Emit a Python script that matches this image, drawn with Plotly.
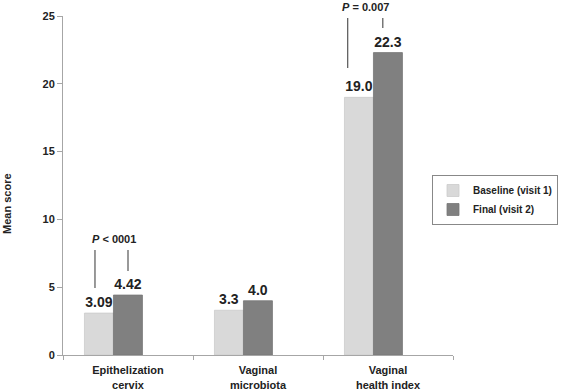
import plotly.graph_objects as go

categories = ["Epithelization<br>cervix", "Vaginal<br>microbiota", "Vaginal<br>health index"]
baseline = [3.09, 3.3, 19.0]
final = [4.42, 4.0, 22.3]
baseline_labels = ["3.09", "3.3", "19.0"]
final_labels = ["4.42", "4.0", "22.3"]
y_ticks = [0, 5, 10, 15, 20, 25]

FONT = "Liberation Sans, Arial, sans-serif"
AX = "#a6a6a6"
BW = 0.223

W, H = 567, 391
L, R, T, B = 63, 114, 16, 36
pw, ph = W - L - R, H - T - B


def px_x(px):
    return (px - L) / pw


def px_y(py):
    return (H - B - py) / ph


fig = go.Figure()
fig.add_bar(x=categories, y=baseline, name="Baseline (visit 1)",
            marker=dict(color="#d9d9d9", line=dict(color="#cccccc", width=0.8)),
            width=BW, offset=-0.335,
            text=baseline_labels, textposition="outside", cliponaxis=False,
            textfont=dict(size=14, color="#222", family=FONT, weight="bold"))
fig.add_bar(x=categories, y=final, name="Final (visit 2)",
            marker=dict(color="#808080", line=dict(color="#777777", width=0.8)),
            width=BW, offset=-0.112,
            text=final_labels, textposition="outside", cliponaxis=False,
            textfont=dict(size=14, color="#222", family=FONT, weight="bold"))

line_style = dict(color="#555555", width=1.2)
pfont = dict(size=11, color="#222", family=FONT, weight="bold")
# P-value brackets
fig.add_shape(type="line", xref="x", yref="y", x0=-0.254, x1=-0.254, y0=4.94, y1=7.74, line=line_style)
fig.add_shape(type="line", xref="x", yref="y", x0=0.0, x1=0.0, y0=6.19, y1=7.74, line=line_style)
fig.add_annotation(x=-0.105, y=px_y(239), xref="x", yref="paper", showarrow=False,
                   text="<i>P</i> < 0001", font=pfont, yanchor="middle")
fig.add_shape(type="line", xref="x", yref="y", x0=1.69, x1=1.69, y0=21.16, y1=24.85, line=line_style)
fig.add_shape(type="line", xref="x", yref="y", x0=1.96, x1=1.96, y0=24.11, y1=24.85, line=line_style)
fig.add_annotation(x=1.83, y=px_y(7), xref="x", yref="paper", showarrow=False,
                   text="<i>P</i> = 0.007", font=pfont, yanchor="middle")

# y title
fig.add_annotation(x=px_x(7), y=px_y(204), xref="paper", yref="paper", showarrow=False,
                   text="Mean score", textangle=-90, xanchor="center", yanchor="middle",
                   font=dict(size=11, color="#222", family=FONT, weight="bold"))

fig.update_layout(
    width=W, height=H,
    margin=dict(l=L, r=R, t=T, b=B, autoexpand=False),
    plot_bgcolor="white", paper_bgcolor="white",
    font=dict(family=FONT, size=11, color="#222"),
    barmode="group",
    showlegend=True,
    legend=dict(x=px_x(432), y=px_y(175), xanchor="left", yanchor="top",
                bordercolor="#888888", borderwidth=1, bgcolor="white",
                font=dict(size=10, family=FONT, weight="bold", color="#222"),
                tracegroupgap=2, itemwidth=30),
    xaxis=dict(range=[-0.5, 2.5], showline=True, linecolor=AX, linewidth=1,
               ticks="outside", tickson="boundaries", ticklen=4, tickcolor=AX,
               ticklabelstandoff=5,
               tickfont=dict(size=11, family=FONT, weight="bold", color="#222"),
               showgrid=False, fixedrange=True),
    yaxis=dict(range=[0, 25], tickvals=y_ticks, showline=True, linecolor=AX, linewidth=1,
               ticks="outside", ticklen=5, tickcolor=AX,
               tickfont=dict(size=11, family=FONT, weight="bold", color="#222"),
               showgrid=False, zeroline=False, fixedrange=True),
)

fig.write_html("out.html", config={"displayModeBar": False},
               post_script="document.body.style.margin='0';document.body.style.overflow='hidden';")
